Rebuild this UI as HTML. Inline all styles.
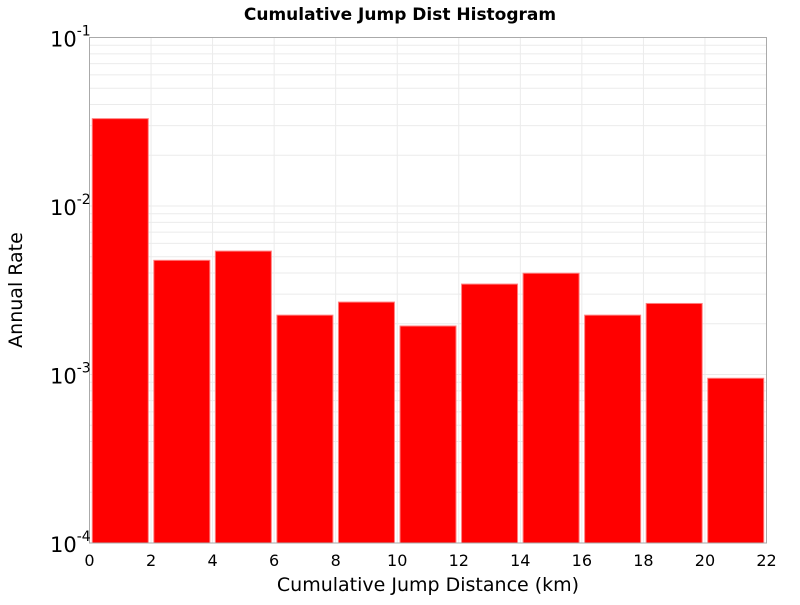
<!DOCTYPE html>
<html><head><meta charset="utf-8"><style>
body{margin:0;background:#fff;}
svg text{font-family:"DejaVu Sans","Liberation Sans",sans-serif;}
</style></head><body>
<svg width="800" height="600" xmlns="http://www.w3.org/2000/svg">
<g id="grid"></g>
<g id="bars"></g>
<rect x="89.5" y="37.5" width="677" height="505.5" fill="none" stroke="#aaa" stroke-width="1"/>
<g id="xt"></g>
<g id="yt"></g>
<text x="400" y="20" text-anchor="middle" font-size="17" font-weight="bold">Cumulative Jump Dist Histogram</text>
<text x="428" y="591" text-anchor="middle" font-size="19">Cumulative Jump Distance (km)</text>
<text transform="translate(22,290) rotate(-90)" text-anchor="middle" font-size="19">Annual Rate</text>
</svg>
<script>
const binStarts=[0,2,4,6,8,10,12,14,16,18,20];
const rates=[0.033,0.00476,0.0054,0.00225,0.00269,0.00194,0.00344,0.00399,0.00225,0.00264,0.00095];
const xTicks=[0,2,4,6,8,10,12,14,16,18,20,22];
const yExps=[-4,-3,-2,-1];
const L=89.5,R=766.5,T=37.5,B=543;
const X=v=>L+(v-0)/22*(R-L);
const Y=v=>B-(Math.log10(v)+4)/3*(B-T);
const NS="http://www.w3.org/2000/svg";
function mk(t,a,p){const e=document.createElementNS(NS,t);for(const k in a)e.setAttribute(k,a[k]);p.appendChild(e);return e;}
const g=document.getElementById('grid');
for(let e=-4;e<-1;e++)for(let m=1;m<10;m++){const y=Y(m*Math.pow(10,e));
 const l=mk('line',{x1:L,x2:R,y1:y,y2:y,stroke:'#ebebeb','stroke-width':1},g);
 
 }
xTicks.forEach(v=>{const l=mk('line',{x1:X(v),x2:X(v),y1:T,y2:B,stroke:'#ebebeb','stroke-width':1},g);
 
 });
const bg=document.getElementById('bars');
binStarts.forEach((s,i)=>{const x1=X(s+0.09),x2=X(s+1.91),y=Y(rates[i]);
 const r=mk('rect',{x:x1,y:y,width:x2-x1,height:B-y,fill:'#ff0000',stroke:'#ff8080','stroke-width':1},bg);
 
 });
const xt=document.getElementById('xt');
xTicks.forEach(v=>{const t=mk('text',{x:X(v),y:566,'text-anchor':'middle','font-size':16},xt);t.textContent=v;
 
 });
const yt=document.getElementById('yt');
yExps.forEach(e=>{const y=Y(Math.pow(10,e));
 const t=mk('text',{x:50,y:y+9,'font-size':21},yt);
 
 
 t.textContent='10';
 const s=mk('tspan',{dy:-11,'font-size':14},t);s.textContent=e;});
</script>
</body></html>
